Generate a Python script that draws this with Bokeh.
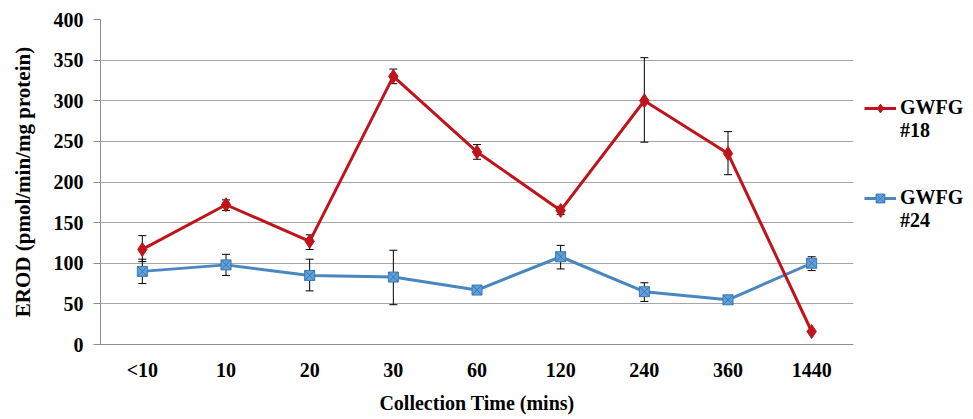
from bokeh.plotting import figure
from bokeh.models import ColumnDataSource, Whisker, TeeHead, Legend, LegendItem, FactorRange
from bokeh.embed import file_html
from bokeh.resources import INLINE

categories = ["<10", "10", "20", "30", "60", "120", "240", "360", "1440"]
gwfg18 = [117, 172, 127, 330, 237, 165, 300, 235, 16]
gwfg18_lo = [102, 165, 117, 321, 228, 160, 249, 209, 16]
gwfg18_hi = [134, 178, 135, 339, 246, 170, 353, 262, 16]
gwfg24 = [90, 98, 85, 83, 67, 108, 65, 55, 100]
gwfg24_lo = [75, 85, 66, 49, 64, 93, 53, 53, 91]
gwfg24_hi = [105, 111, 105, 116, 70, 122, 76, 57, 108]
y_ticks = [0, 50, 100, 150, 200, 250, 300, 350, 400]

RED = "#C0141C"
BLUE = "#4A86C0"
FONT = "Liberation Serif"

p = figure(frame_width=753, frame_height=325, x_range=FactorRange(*categories, range_padding=0),
           y_range=(0, 400), output_backend="svg", toolbar_location=None,
           min_border_left=100, min_border_right=120, min_border_top=19, min_border_bottom=75)
p.outline_line_color = None
p.xgrid.grid_line_color = None
p.ygrid.grid_line_color = "#A6A6A6"
p.ygrid.grid_line_width = 1
p.yaxis.ticker = y_ticks

for ax in (p.xaxis, p.yaxis):
    ax.axis_line_color = "#8C8C8C"
    ax.major_tick_line_color = "#8C8C8C"
    ax.minor_tick_line_color = None
    ax.major_label_text_font = FONT
    ax.major_label_text_font_style = "bold"
    ax.major_label_text_font_size = "20px"
    ax.major_label_text_color = "#000000"
    ax.axis_label_text_font = FONT
    ax.axis_label_text_font_style = "bold"
    ax.axis_label_text_font_size = "21px"
    ax.axis_label_text_color = "#000000"

p.xaxis.major_tick_out = 0
p.xaxis.major_tick_in = 0
p.xaxis.major_label_standoff = 14
p.xaxis.axis_label = "Collection Time (mins)"
p.xaxis.axis_label_standoff = 8
p.xaxis.axis_label_text_font_size = "20px"
p.yaxis.major_tick_out = 7
p.yaxis.major_tick_in = 0
p.yaxis.major_label_standoff = 10
p.yaxis.axis_label = "EROD (pmol/min/mg protein)"
p.yaxis.axis_label_standoff = 16

s18 = ColumnDataSource(dict(x=categories, y=gwfg18, lo=gwfg18_lo, hi=gwfg18_hi))
s24 = ColumnDataSource(dict(x=categories, y=gwfg24, lo=gwfg24_lo, hi=gwfg24_hi))

l24 = p.line("x", "y", source=s24, line_color=BLUE, line_width=3)
m24 = p.scatter("x", "y", source=s24, marker="square_x", size=10, fill_color="#5FA0DA",
                line_color="#3B76B0", line_width=1)
l18 = p.line("x", "y", source=s18, line_color=RED, line_width=3)
m18 = p.scatter("x", "y", source=s18, marker="diamond", size=14, fill_color=RED, line_color=RED)

for src in (s18, s24):
    w = Whisker(source=src, base="x", upper="hi", lower="lo", line_color="#000000", line_width=1,
                upper_head=TeeHead(size=8, line_color="#000000", line_width=1),
                lower_head=TeeHead(size=8, line_color="#000000", line_width=1))
    p.add_layout(w)

dummy = p.line(x=[], y=[], line_alpha=0)

legend = Legend(items=[
    LegendItem(label=" ", renderers=[dummy]),
    LegendItem(label=" ", renderers=[dummy]),
    LegendItem(label=" ", renderers=[dummy]),
    LegendItem(label="GWFG", renderers=[l18, m18]),
    LegendItem(label="#18", renderers=[dummy]),
    LegendItem(label=" ", renderers=[dummy]),
    LegendItem(label=" ", renderers=[dummy]),
    LegendItem(label="GWFG", renderers=[l24, m24]),
    LegendItem(label="#24", renderers=[dummy]),
], location="top_left", orientation="vertical", border_line_color=None,
   background_fill_alpha=0, padding=0, margin=11, spacing=0,
   label_text_font=FONT, label_text_font_style="bold", label_text_font_size="20px",
   label_text_color="#000000",
   label_height=22, glyph_height=22, glyph_width=32, label_standoff=4,
   label_text_baseline="middle")
p.add_layout(legend, "right")

open("out.html", "w").write(file_html(p, INLINE))
